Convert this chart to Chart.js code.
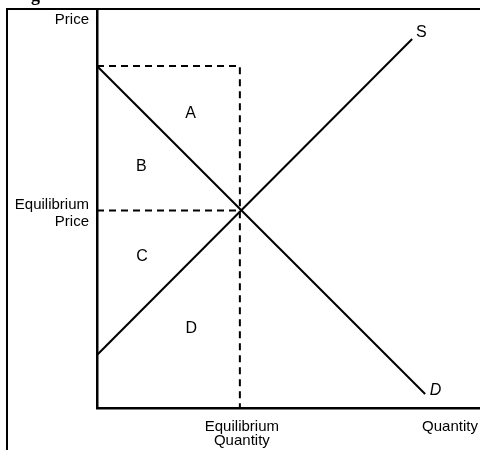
<!DOCTYPE html>
<html>
<head>
<meta charset="utf-8">
<script src="https://cdn.jsdelivr.net/npm/chart.js@4/dist/chart.umd.min.js"></script>
<style>
html,body{margin:0;padding:0;background:#fff;}
canvas{display:block;}
</style>
</head>
<body>
<canvas id="c" width="480" height="450"></canvas>
<script>
// ---- data (abstract units: quantity 0-10, price 0-10) ----
const demandLine = [{x: 0, y: 8.57}, {x: 8.59, y: 0.35}];
const supplyLine = [{x: 0, y: 1.33}, {x: 8.25, y: 9.25}];
const eqQuantity = 3.74;
const eqPrice = 4.95;
const demandIntercept = 8.57;
const xTickValues = [3.74, 9.24];
const xTickLabels = [["Equilibrium", "Quantity"], ["Quantity"]];
const yTickValues = [4.95, 9.72];
const yTickLabels = [["Equilibrium", "Price"], ["Price"]];
const areaLabels = ["A", "B", "C", "D"];
const areaX = [2.45, 1.16, 1.18, 2.47];
const areaY = [7.38, 6.04, 3.79, 1.99];
const curveLabels = ["S", "D"];
const curveLabelX = [8.49, 8.86];
const curveLabelY = [9.42, 0.43];

const FONT = '"Liberation Sans", Arial, sans-serif';

const framePlugin = {
  id: 'frame',
  afterDraw(chart) {
    const ctx = chart.ctx;
    ctx.save();
    ctx.strokeStyle = '#000';
    ctx.lineWidth = 2;
    ctx.beginPath();
    ctx.moveTo(7, 450);
    ctx.lineTo(7, 9);
    ctx.lineTo(480, 9);
    ctx.stroke();
    ctx.fillStyle = '#000';
    ctx.font = 'bold 18px "Liberation Serif", serif';
    ctx.textBaseline = 'alphabetic';
    ctx.fillText('g', 31, 1);
    ctx.restore();
  }
};

const labelPlugin = {
  id: 'textLabels',
  afterDatasetsDraw(chart) {
    const ctx = chart.ctx;
    const xs = chart.scales.x, ys = chart.scales.y;
    ctx.save();
    ctx.fillStyle = '#000';
    ctx.textBaseline = 'middle';
    // axis tick labels
    ctx.font = '15px ' + FONT;
    ctx.textAlign = 'right';
    yTickValues.forEach((v, i) => {
      const lines = yTickLabels[i];
      const py = ys.getPixelForValue(v);
      const start = lines.length > 1 ? py - 6 : py;
      lines.forEach((l, j) => ctx.fillText(l, 89, start + j * 17));
    });
    ctx.textAlign = 'center';
    xTickValues.forEach((v, i) => {
      const lines = xTickLabels[i];
      const px = xs.getPixelForValue(v) + (lines.length > 1 ? 2 : 0);
      lines.forEach((l, j) => ctx.fillText(l, px, xs.top + 19 + j * 13.5));
    });
    // region labels
    ctx.font = '16px ' + FONT;
    areaLabels.forEach((t, i) => {
      ctx.fillText(t, xs.getPixelForValue(areaX[i]), ys.getPixelForValue(areaY[i]));
    });
    curveLabels.forEach((t, i) => {
      ctx.font = (i === 1 ? 'italic ' : '') + '16px ' + FONT;
      ctx.fillText(t, xs.getPixelForValue(curveLabelX[i]), ys.getPixelForValue(curveLabelY[i]));
    });
    ctx.restore();
  }
};

const dashStyle = {borderColor: '#000', borderWidth: 2, borderDash: [7, 5], pointRadius: 0, showLine: true, fill: false};
const solidStyle = {borderColor: '#000', borderWidth: 2, pointRadius: 0, showLine: true, fill: false};

new Chart(document.getElementById('c'), {
  type: 'scatter',
  data: {
    datasets: [
      Object.assign({label: 'D', data: demandLine}, solidStyle),
      Object.assign({label: 'S', data: supplyLine}, solidStyle),
      Object.assign({label: 'top', data: [{x: 0, y: demandIntercept}, {x: eqQuantity, y: demandIntercept}, {x: eqQuantity, y: 0}]}, dashStyle),
      Object.assign({label: 'eqP', data: [{x: 0, y: eqPrice}, {x: eqQuantity, y: eqPrice}]}, dashStyle)
    ]
  },
  options: {
    responsive: false,
    animation: false,
    layout: {padding: {top: 9, right: 1, bottom: 0, left: 0}},
    plugins: {legend: {display: false}, tooltip: {enabled: false}},
    scales: {
      x: {
        type: 'linear', min: 0, max: 10,
        grid: {display: false, drawTicks: false},
        border: {display: true, color: '#000', width: 2.5},
        ticks: {display: false},
        afterFit: s => { s.height = 42; }
      },
      y: {
        type: 'linear', min: 0, max: 10,
        grid: {display: false, drawTicks: false},
        border: {display: true, color: '#000', width: 2.5},
        ticks: {display: false},
        afterFit: s => { s.width = 97; }
      }
    }
  },
  plugins: [framePlugin, labelPlugin]
});
</script>
</body>
</html>
